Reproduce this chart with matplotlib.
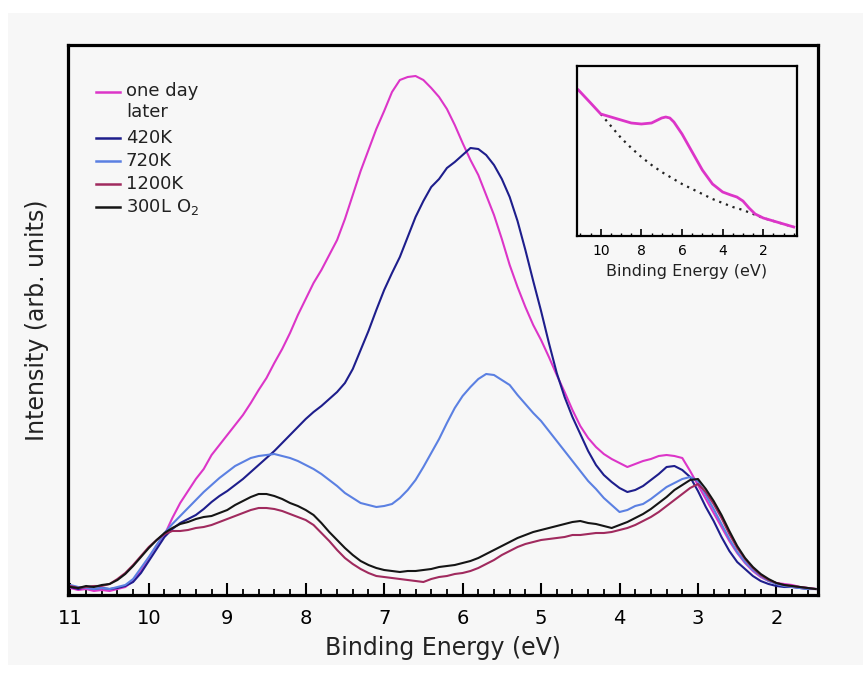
import numpy as np
import matplotlib
matplotlib.use("Agg")
import matplotlib.pyplot as plt
from matplotlib.ticker import MultipleLocator
from matplotlib.patches import Rectangle

# binding energy grid of the spectra (eV), 11.0 -> 1.5 in 0.1 steps
energy = np.round(np.arange(11.0, 1.45, -0.1), 1)

one_day_later = [
    7, 5, 6, 4, 5, 4, 6, 8, 14, 24,
    37, 49, 60, 77, 92, 104, 116, 126, 140, 150,
    160, 170, 180, 192, 205, 217, 232, 246, 262, 280,
    296, 312, 325, 340, 355, 376, 400, 424, 445, 466,
    484, 503, 515, 518, 519, 515, 507, 498, 486, 470,
    452, 435, 420, 400, 380, 356, 330, 308, 288, 270,
    255, 238, 220, 203, 185, 169, 157, 148, 141, 136,
    132, 128, 131, 134, 136, 139, 140, 139, 137, 124,
    110, 96, 82, 68, 54, 42, 32, 24, 18, 14,
    12, 11, 10, 8, 7, 6]

k420 = [
    8, 6, 8, 6, 7, 6, 7, 9, 13, 22,
    34, 46, 58, 66, 72, 76, 80, 86, 93, 99,
    104, 110, 116, 123, 130, 137, 144, 152, 160, 168,
    176, 183, 189, 196, 203, 212, 226, 245, 264, 285,
    305, 322, 338, 358, 378, 394, 408, 416, 427, 433,
    440, 447, 446, 440, 430, 416, 398, 374, 345, 314,
    284, 252, 222, 198, 178, 161, 144, 130, 120, 113,
    107, 103, 105, 109, 115, 121, 128, 129, 125, 118,
    104, 88, 74, 58, 44, 33, 26, 19, 14, 11,
    9, 8, 8, 7, 6, 6]

k720 = [
    10, 8, 7, 6, 7, 6, 8, 10, 16, 27,
    38, 50, 62, 71, 79, 87, 95, 103, 110, 117,
    123, 129, 133, 137, 139, 140, 141, 139, 137, 134,
    130, 126, 121, 115, 109, 102, 97, 92, 90, 88,
    89, 91, 97, 105, 115, 128, 142, 156, 172, 187,
    199, 208, 216, 221, 220, 215, 210, 200, 191, 182,
    174, 164, 154, 144, 134, 124, 114, 106, 97, 90,
    83, 85, 89, 91, 96, 102, 108, 112, 116, 118,
    114, 100, 86, 71, 56, 43, 33, 25, 19, 14,
    11, 9, 8, 7, 6, 6]

k1200 = [
    9, 7, 8, 9, 9, 11, 16, 22, 30, 39,
    48, 55, 61, 64, 64, 65, 67, 68, 70, 73,
    76, 79, 82, 85, 87, 87, 86, 84, 81, 78,
    75, 70, 62, 54, 45, 37, 31, 26, 22, 19,
    18, 17, 16, 15, 14, 13, 16, 18, 19, 21,
    22, 24, 27, 31, 35, 40, 44, 48, 51, 53,
    55, 56, 57, 58, 60, 60, 61, 62, 62, 63,
    65, 67, 70, 74, 78, 83, 89, 95, 101, 107,
    111, 103, 91, 77, 61, 47, 36, 27, 20, 15,
    12, 10, 9, 8, 7, 6]

o2_300L = [
    8, 7, 9, 8, 10, 11, 15, 21, 29, 38,
    47, 55, 62, 67, 71, 73, 76, 78, 79, 82,
    85, 90, 94, 98, 101, 101, 99, 96, 92, 89,
    85, 80, 72, 63, 55, 47, 40, 34, 30, 27,
    25, 24, 23, 24, 24, 25, 26, 28, 29, 30,
    32, 34, 37, 41, 45, 49, 53, 57, 60, 63,
    65, 67, 69, 71, 73, 74, 72, 71, 69, 67,
    70, 73, 77, 81, 86, 92, 98, 105, 110, 115,
    116, 106, 94, 80, 64, 49, 37, 28, 21, 16,
    12, 10, 9, 8, 7, 6]

labels = ["one day\nlater", "420K", "720K", "1200K", "300L O$_2$"]
colors = ["#dc35c8", "#1e1e8c", "#5b80e2", "#a02a5e", "#151515"]

# inset: raw spectrum and background
inset_energy = [11.1, 10.5, 10.0, 9.5, 9.0, 8.5, 8.0, 7.5, 7.2, 7.0, 6.8, 6.6, 6.4,
                6.0, 5.5, 5.0, 4.5, 4.0, 3.6, 3.3, 3.0, 2.7, 2.4, 2.0, 1.5, 1.0, 0.5]
inset_raw = [146, 133, 122, 119, 116, 113, 112, 113, 116, 118, 119, 118, 114,
             102, 84, 66, 52, 44, 41, 39, 35, 28, 22, 18, 15, 12, 9]
bg_energy = [10.0, 9.5, 9.0, 8.5, 8.0, 7.5, 7.0, 6.5, 6.0, 5.5, 5.0, 4.5, 4.0,
             3.5, 3.0, 2.5, 2.0, 1.5, 1.0, 0.5]
bg_values = [122, 110, 98, 88, 79, 71, 64, 58, 52, 47, 42, 37, 33,
             29, 26, 22, 18, 15, 12, 9]

plt.rcParams['font.family'] = ['DejaVu Sans']
fig = plt.figure(figsize=(8.63, 6.75), dpi=100, facecolor="white")
# light grey panel behind everything
fig.patches.append(Rectangle((8 / 863, 10 / 675), 855 / 863, 652 / 675,
                             transform=fig.transFigure, facecolor="#f7f7f7",
                             edgecolor="none", zorder=-10))

ax = fig.add_axes([68 / 863, 80 / 675, 750 / 863, 550 / 675])
ax.set_facecolor("#f7f7f7")
series = [one_day_later, k420, k720, k1200, o2_300L]
for vals, c in zip(series, colors):
    ax.plot(energy, vals, color=c, lw=1.5)

ax.set_xlim(11.03, 1.47)
ax.set_ylim(0, 550)
ax.set_yticks([])
ax.xaxis.set_major_locator(MultipleLocator(1))
ax.xaxis.set_minor_locator(MultipleLocator(0.2))
ax.tick_params(axis="x", which="major", direction="in", length=9, width=1.5, pad=10,
               labelsize=14)
ax.tick_params(axis="x", which="minor", direction="in", length=4.5, width=1.3)
for s in ax.spines.values():
    s.set_linewidth(2.3)
ax.set_xlabel("Binding Energy (eV)", fontsize=17, labelpad=6, color="#222222")
ax.set_ylabel("Intensity (arb. units)", fontsize=17, labelpad=14, color="#222222")

# legend drawn by hand so the handle sits on the first line of a wrapped label
row_y = [0.9145, 0.831, 0.790, 0.748, 0.705]
for i, (lab, c, y) in enumerate(zip(labels, colors, row_y)):
    ax.plot([0.037, 0.069], [y, y], color=c, lw=1.8, transform=ax.transAxes)
    if i == 0:
        ax.text(0.077, y + 0.018, lab, transform=ax.transAxes, fontsize=13,
                va="top", ha="left", color="#222222", linespacing=1.2)
    else:
        ax.text(0.077, y, lab, transform=ax.transAxes, fontsize=13,
                va="center", ha="left", color="#222222")

axin = fig.add_axes([577 / 863, 439 / 675, 220 / 863, 170 / 675])
axin.set_facecolor("#f7f7f7")
axin.plot(bg_energy, bg_values, color="#222222", lw=1.6, linestyle=(0, (1, 2.2)))
axin.plot(inset_energy, inset_raw, color="#dc35c8", lw=2)
axin.set_xlim(11.17, 0.34)
axin.set_ylim(0, 170)
axin.set_yticks([])
axin.xaxis.set_major_locator(MultipleLocator(2))
axin.xaxis.set_minor_locator(MultipleLocator(0.5))
axin.tick_params(axis="x", which="major", direction="in", length=5, width=1.2, pad=6,
                 labelsize=10)
axin.tick_params(axis="x", which="minor", direction="in", length=2.5, width=1.0)
for s in axin.spines.values():
    s.set_linewidth(1.6)
axin.set_xlabel("Binding Energy (eV)", fontsize=11.5, labelpad=4, color="#222222")

fig.savefig("out.png", dpi=100, facecolor=fig.get_facecolor())
